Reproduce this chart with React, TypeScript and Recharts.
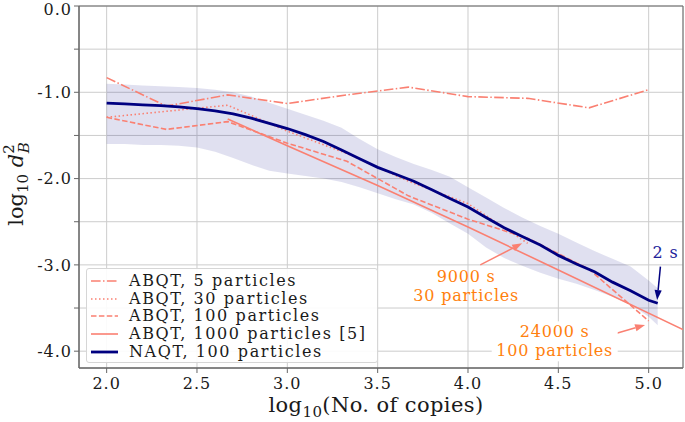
import React from "react";
import {
  ComposedChart,
  Line,
  Area,
  XAxis,
  YAxis,
  CartesianGrid,
  ReferenceLine,
  ReferenceDot,
  ReferenceArea,
} from "recharts";

const SALMON = "#fa8072";
const NAVY = "#000080";
const ORANGE = "#ff7f0e";
const TEXT = "#1a1a1a";
const SPINE = "#666";
const GRID = "#cccccc";
const FONT = "'DejaVu Serif', serif";

const xTicks = [2.0, 2.5, 3.0, 3.5, 4.0, 4.5, 5.0];
const yTicks = [-4.0, -3.5, -3.0, -2.5, -2.0, -1.5, -1.0, -0.5, 0.0];
const X_DOMAIN: [number, number] = [1.847, 5.19];
const Y_DOMAIN: [number, number] = [-4.195, 0];

// ABQT runs (log10 copies on a 1/3 grid)
const abqtX = [2.0, 2.33, 2.67, 3.0, 3.33, 3.67, 4.0, 4.33, 4.67, 5.0];
const abqt5 = [-0.83, -1.16, -1.03, -1.13, -1.03, -0.94, -1.05, -1.07, -1.18, -0.97];
const abqt30 = [-1.29, -1.22, -1.15, -1.45, -1.71, -2.03, -2.29, -2.75];
const abqt100 = [-1.29, -1.43, -1.34, -1.59, -1.8, -2.2, -2.47, -2.69, -3.05, -3.65];

// ABQT 1000 particles, ref [5]
const abqt1000X = [2.67, 3.0, 3.5, 4.0, 4.5, 5.19];
const abqt1000 = [-1.31, -1.62, -2.08, -2.56, -3.06, -3.75];

// NAQT mean and spread
const naqtX = [
  2.0, 2.1, 2.2, 2.3, 2.4, 2.5, 2.6, 2.7, 2.8, 2.9, 3.0, 3.1, 3.2, 3.3, 3.4, 3.5,
  3.6, 3.7, 3.8, 3.9, 4.0, 4.1, 4.2, 4.3, 4.4, 4.5, 4.6, 4.7, 4.8, 4.9, 5.0, 5.05,
];
const naqt100 = [
  -1.125, -1.135, -1.145, -1.155, -1.17, -1.19, -1.215, -1.25, -1.3, -1.36, -1.42,
  -1.49, -1.57, -1.67, -1.77, -1.87, -1.95, -2.03, -2.13, -2.23, -2.33, -2.45,
  -2.57, -2.67, -2.77, -2.89, -2.99, -3.08, -3.2, -3.3, -3.41, -3.445,
];
const bandHi = [
  -0.9, -0.91, -0.92, -0.93, -0.94, -0.95, -0.97, -1.0, -1.05, -1.12, -1.19, -1.26,
  -1.33, -1.41, -1.54, -1.66, -1.75, -1.83, -1.9, -1.98, -2.1, -2.22, -2.34, -2.45,
  -2.55, -2.64, -2.74, -2.84, -2.93, -3.02, -3.18, -3.27,
];
const bandLo = [
  -1.6, -1.6, -1.61, -1.61, -1.62, -1.64, -1.69, -1.76, -1.84, -1.91, -1.94, -1.97,
  -2.0, -2.04, -2.1, -2.17, -2.24, -2.3, -2.4, -2.52, -2.64, -2.8, -2.92, -3.01,
  -3.09, -3.16, -3.22, -3.29, -3.37, -3.46, -3.6, -3.7,
];

const legendItems = [
  { label: "ABQT, 5 particles", color: SALMON, dash: "9.6 2.4 1.5 2.4", width: 1.6 },
  { label: "ABQT, 30 particles", color: SALMON, dash: "1.5 2.5", width: 1.6 },
  { label: "ABQT, 100 particles", color: SALMON, dash: "5.5 2.4", width: 1.6 },
  { label: "ABQT, 1000 particles [5]", color: SALMON, dash: undefined, width: 1.6 },
  { label: "NAQT, 100 particles", color: NAVY, dash: undefined, width: 2.8 },
];

const notes = [
  { lines: ["9000 s", "30 particles"], x: 3.99, y: -3.245, color: ORANGE, box: 0 },
  { lines: ["24000 s", "100 particles"], x: 4.48, y: -3.886, color: ORANGE, box: 126 },
  { lines: ["2 s"], x: 5.093, y: -2.862, color: "#22229a", box: 0 },
];
const arrows = [
  { from: [4.068, -3.0], to: [4.3, -2.75], color: SALMON },
  { from: [4.733, -3.847], to: [4.98, -3.696], color: SALMON },
  { from: [5.065, -3.02], to: [5.047, -3.407], color: NAVY },
];

type Row = Record<string, any>;

function buildRows(): Row[] {
  const map = new Map<number, Row>();
  const put = (x: number, key: string, v: any) => {
    let r = map.get(x);
    if (!r) {
      r = { x };
      map.set(x, r);
    }
    r[key] = v;
  };
  abqtX.forEach((x, i) => {
    put(x, "a5", abqt5[i]);
    if (i < abqt30.length) put(x, "a30", abqt30[i]);
    put(x, "a100", abqt100[i]);
  });
  abqt1000X.forEach((x, i) => put(x, "a1000", abqt1000[i]));
  naqtX.forEach((x, i) => {
    put(x, "naqt", naqt100[i]);
    put(x, "band", [bandLo[i], bandHi[i]]);
  });
  return [...map.values()].sort((a, b) => a.x - b.x);
}

function arrowShape(color: string) {
  return (p: any) => {
    const { x1, y1, x2, y2 } = p;
    const dx = x2 - x1;
    const dy = y2 - y1;
    const len = Math.hypot(dx, dy) || 1;
    const ux = dx / len;
    const uy = dy / len;
    const hl = 10;
    const hw = 3.6;
    const bx = x2 - ux * hl;
    const by = y2 - uy * hl;
    return (
      <g>
        <line x1={x1} y1={y1} x2={bx} y2={by} stroke={color} strokeWidth={1.5} />
        <polygon
          points={`${x2},${y2} ${bx - uy * hw},${by + ux * hw} ${bx + uy * hw},${by - ux * hw}`}
          fill={color}
        />
      </g>
    );
  };
}

function noteShape(lines: string[], color: string, box: number) {
  return (p: any) => {
    const { cx, cy } = p;
    const lh = 19;
    const top = cy - (lines.length * lh) / 2;
    return (
      <g>
        {box > 0 && (
          <rect x={cx - box / 2} y={top - 1} width={box} height={lines.length * lh + 2} fill="#fff" />
        )}
        {lines.map((t, i) => (
          <text
            key={i}
            x={cx}
            y={top + lh * (i + 0.5)}
            dominantBaseline="central"
            textAnchor="middle"
            fontFamily={FONT}
            fontSize={16}
            letterSpacing={0.8}
            fill={color}
          >
            {t}
          </text>
        ))}
      </g>
    );
  };
}

const YLabel = (props: any) => {
  const vb = props.viewBox || {};
  const cx = 23;
  const cy = vb.height ? vb.y + vb.height / 2 - 3 : 184;
  return (
    <text
      x={cx}
      y={cy}
      transform={`rotate(-90, ${cx}, ${cy})`}
      textAnchor="middle"
      fontFamily={FONT}
      fontSize={21}
      fill={TEXT}
    >
      <tspan>log</tspan>
      <tspan fontSize={15} dy={5}>10</tspan>
      <tspan dy={-5}> </tspan>
      <tspan fontStyle="italic">d</tspan>
      <tspan fontSize={15} dy={-9}>2</tspan>
      <tspan fontSize={15} fontStyle="italic" dx={-9} dy={15}>B</tspan>
    </text>
  );
};

const XLabel = (props: any) => {
  const vb = props.viewBox || {};
  const cx = vb.width ? vb.x + vb.width / 2 - 5 : 376;
  return (
    <text x={cx} y={412} textAnchor="middle" fontFamily={FONT} fontSize={21} letterSpacing={0.4} fill={TEXT}>
      <tspan>log</tspan>
      <tspan fontSize={15} dy={5}>10</tspan>
      <tspan dy={-5}>(No. of copies)</tspan>
    </text>
  );
};

function Legend() {
  return (
    <div
      style={{
        position: "absolute",
        left: 86,
        top: 268,
        width: 292,
        height: 95,
        border: "1px solid #d6d6d6",
        borderRadius: 3,
        background: "rgba(255,255,255,0.9)",
        fontFamily: FONT,
        fontSize: 16,
        letterSpacing: 1.6,
        color: TEXT,
        paddingTop: 3,
        boxSizing: "border-box",
      }}
    >
      {legendItems.map((it) => (
        <div key={it.label} style={{ display: "flex", alignItems: "center", height: 17.7 }}>
          <svg width={42} height={10} style={{ flex: "none" }}>
            <line
              x1={4}
              x2={31}
              y1={5}
              y2={5}
              stroke={it.color}
              strokeWidth={it.width}
              strokeDasharray={it.dash}
            />
          </svg>
          <span style={{ whiteSpace: "nowrap", lineHeight: "17.7px" }}>{it.label}</span>
        </div>
      ))}
    </div>
  );
}

export default function App() {
  const rows = buildRows();
  const tickStyle = { fontFamily: FONT, fontSize: 16, fill: TEXT, letterSpacing: 1 };

  return (
    <div style={{ position: "absolute", left: 0, top: 0, width: 685, height: 422, background: "#fff" }}>
      <ComposedChart width={685} height={422} data={rows} margin={{ top: 6, right: 2, bottom: 0, left: 0 }}>
        <CartesianGrid stroke={GRID} strokeWidth={1} />
        <XAxis
          dataKey="x"
          type="number"
          domain={X_DOMAIN}
          ticks={xTicks}
          allowDataOverflow
          tickFormatter={(v: number) => v.toFixed(1)}
          tick={tickStyle}
          tickSize={5}
          tickMargin={5}
          height={54}
          stroke={SPINE}
          label={<XLabel />}
        />
        <YAxis
          type="number"
          domain={Y_DOMAIN}
          ticks={yTicks}
          allowDataOverflow
          tickFormatter={(v: number) => (Number.isInteger(v) ? v.toFixed(1) : "")}
          tick={tickStyle}
          tickSize={5}
          tickMargin={2}
          width={79}
          stroke={SPINE}
          label={<YLabel />}
        />
        <Area
          dataKey="band"
          type="linear"
          stroke="none"
          fill={NAVY}
          fillOpacity={0.12}
          connectNulls
          isAnimationActive={false}
          activeDot={false}
        />
        <Line dataKey="a5" type="linear" stroke={SALMON} strokeWidth={1.6} strokeDasharray="9.6 2.4 1.5 2.4" dot={false} activeDot={false} connectNulls isAnimationActive={false} />
        <Line dataKey="a30" type="linear" stroke={SALMON} strokeWidth={1.6} strokeDasharray="1.5 2.5" dot={false} activeDot={false} connectNulls isAnimationActive={false} />
        <Line dataKey="a100" type="linear" stroke={SALMON} strokeWidth={1.6} strokeDasharray="5.5 2.4" dot={false} activeDot={false} connectNulls isAnimationActive={false} />
        <Line dataKey="a1000" type="linear" stroke={SALMON} strokeWidth={1.6} dot={false} activeDot={false} connectNulls isAnimationActive={false} />
        <Line dataKey="naqt" type="linear" stroke={NAVY} strokeWidth={2.8} dot={false} activeDot={false} connectNulls isAnimationActive={false} />
        <ReferenceArea
          x1={X_DOMAIN[0]}
          x2={X_DOMAIN[1]}
          y1={Y_DOMAIN[0]}
          y2={Y_DOMAIN[1]}
          fill="none"
          stroke={SPINE}
          strokeWidth={1}
        />
        {notes.map((n, i) => (
          <ReferenceDot key={`n${i}`} x={n.x} y={n.y} r={0} shape={noteShape(n.lines, n.color, n.box)} />
        ))}
        {arrows.map((a, i) => (
          <ReferenceLine
            key={`a${i}`}
            segment={[
              { x: a.from[0], y: a.from[1] },
              { x: a.to[0], y: a.to[1] },
            ]}
            shape={arrowShape(a.color)}
          />
        ))}
      </ComposedChart>
      <Legend />
    </div>
  );
}
